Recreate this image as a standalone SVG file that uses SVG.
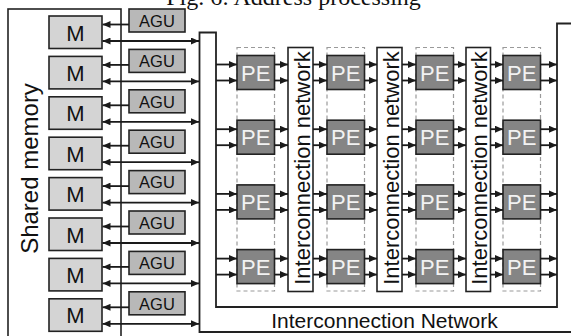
<svg xmlns="http://www.w3.org/2000/svg" width="571" height="336" viewBox="0 0 571 336">
<defs>
<style>
.box{stroke:#222;stroke-width:1.6}
.m{fill:#d4d4d4}
.agu{fill:#b8b8b8}
.pe{fill:#858585}
.ic{fill:#fff;stroke:#222;stroke-width:1.6}
.col{fill:none;stroke:#9a9a9a;stroke-width:1.2;stroke-dasharray:4 3}
.t{font-family:"Liberation Sans",Arial,sans-serif;fill:#111;text-anchor:middle}
.tm{font-size:22px}
.ta{font-size:16.5px}
.tp{font-size:22px;fill:#f2f2f2}
.ti{font-size:22px}
.cap{font-family:"Liberation Serif","Times New Roman",serif;font-size:24px;fill:#111;text-anchor:middle}
.c{stroke:#1a1a1a;stroke-width:1.8;fill:none}
</style>
<marker id="ah" markerWidth="8" markerHeight="7" refX="8" refY="3.5" orient="auto-start-reverse" markerUnits="userSpaceOnUse">
<path d="M0,0 L8,3.5 L0,7 z" fill="#1a1a1a"/>
</marker>
</defs>
<rect width="571" height="336" fill="#fff"/>
<text class="cap" x="293.5" y="5">Fig. 6: Address processing</text>

<g id="shared-memory">
<rect x="8" y="9" width="113" height="340" fill="#fff" stroke="#222" stroke-width="1.6"/>
<text class="t" style="font-size:24px" transform="translate(38,168.5) rotate(-90)">Shared memory</text>
</g>

<g id="interconnection-network">
<path d="M199.5,32.5 H216 V307 H557 V23.5 H580 V332 H199.5 Z" fill="#fff" stroke="#222" stroke-width="1.8"/>
<text class="t" style="font-size:21px" x="384.5" y="327.5">Interconnection Network</text>
</g>

<g id="m1"><rect class="box m" x="49" y="16" width="53" height="32.5"/><text class="t tm" x="75.5" y="40.5">M</text></g>
<g id="m2"><rect class="box m" x="49" y="56.4" width="53" height="32.5"/><text class="t tm" x="75.5" y="80.9">M</text></g>
<g id="m3"><rect class="box m" x="49" y="96.8" width="53" height="32.5"/><text class="t tm" x="75.5" y="121.3">M</text></g>
<g id="m4"><rect class="box m" x="49" y="137.2" width="53" height="32.5"/><text class="t tm" x="75.5" y="161.7">M</text></g>
<g id="m5"><rect class="box m" x="49" y="177.6" width="53" height="32.5"/><text class="t tm" x="75.5" y="202.1">M</text></g>
<g id="m6"><rect class="box m" x="49" y="218" width="53" height="32.5"/><text class="t tm" x="75.5" y="242.5">M</text></g>
<g id="m7"><rect class="box m" x="49" y="258.4" width="53" height="32.5"/><text class="t tm" x="75.5" y="282.9">M</text></g>
<g id="m8"><rect class="box m" x="49" y="298.8" width="53" height="32.5"/><text class="t tm" x="75.5" y="323.3">M</text></g>

<g id="agu1"><rect class="box agu" x="129" y="9" width="56" height="23"/><text class="t ta" x="157" y="26.7">AGU</text></g>
<g id="agu2"><rect class="box agu" x="129" y="49.4" width="56" height="23"/><text class="t ta" x="157" y="67.1">AGU</text></g>
<g id="agu3"><rect class="box agu" x="129" y="89.8" width="56" height="23"/><text class="t ta" x="157" y="107.5">AGU</text></g>
<g id="agu4"><rect class="box agu" x="129" y="130.2" width="56" height="23"/><text class="t ta" x="157" y="147.9">AGU</text></g>
<g id="agu5"><rect class="box agu" x="129" y="170.6" width="56" height="23"/><text class="t ta" x="157" y="188.3">AGU</text></g>
<g id="agu6"><rect class="box agu" x="129" y="211" width="56" height="23"/><text class="t ta" x="157" y="228.7">AGU</text></g>
<g id="agu7"><rect class="box agu" x="129" y="251.4" width="56" height="23"/><text class="t ta" x="157" y="269.1">AGU</text></g>
<g id="agu8"><rect class="box agu" x="129" y="291.8" width="56" height="23"/><text class="t ta" x="157" y="309.5">AGU</text></g>

<g id="pe-columns">
<rect class="col" x="237" y="47.5" width="37.5" height="243.5"/>
<rect class="col" x="327" y="47.5" width="37.5" height="243.5"/>
<rect class="col" x="416" y="47.5" width="37.5" height="243.5"/>
<rect class="col" x="503" y="47.5" width="37.5" height="243.5"/>
</g>

<g id="ic1"><rect class="ic" x="288" y="47.5" width="25" height="244"/><text class="t ti" transform="translate(309.5,168) rotate(-90)">Interconnection network</text></g>
<g id="ic2"><rect class="ic" x="377" y="47.5" width="25" height="244"/><text class="t ti" transform="translate(398.5,168) rotate(-90)">Interconnection network</text></g>
<g id="ic3"><rect class="ic" x="466" y="47.5" width="24.5" height="244"/><text class="t ti" transform="translate(487,168) rotate(-90)">Interconnection network</text></g>

<g id="pe-row1">
<g id="pe11"><rect class="box pe" x="237" y="55.5" width="37.5" height="34"/><text class="t tp" x="255.75" y="80.5">PE</text></g>
<g id="pe12"><rect class="box pe" x="327" y="55.5" width="37.5" height="34"/><text class="t tp" x="345.75" y="80.5">PE</text></g>
<g id="pe13"><rect class="box pe" x="416" y="55.5" width="37.5" height="34"/><text class="t tp" x="434.75" y="80.5">PE</text></g>
<g id="pe14"><rect class="box pe" x="503" y="55.5" width="37.5" height="34"/><text class="t tp" x="521.75" y="80.5">PE</text></g>
</g>
<g id="pe-row2">
<g id="pe21"><rect class="box pe" x="237" y="120.2" width="37.5" height="34"/><text class="t tp" x="255.75" y="145.2">PE</text></g>
<g id="pe22"><rect class="box pe" x="327" y="120.2" width="37.5" height="34"/><text class="t tp" x="345.75" y="145.2">PE</text></g>
<g id="pe23"><rect class="box pe" x="416" y="120.2" width="37.5" height="34"/><text class="t tp" x="434.75" y="145.2">PE</text></g>
<g id="pe24"><rect class="box pe" x="503" y="120.2" width="37.5" height="34"/><text class="t tp" x="521.75" y="145.2">PE</text></g>
</g>
<g id="pe-row3">
<g id="pe31"><rect class="box pe" x="237" y="184.9" width="37.5" height="34"/><text class="t tp" x="255.75" y="209.9">PE</text></g>
<g id="pe32"><rect class="box pe" x="327" y="184.9" width="37.5" height="34"/><text class="t tp" x="345.75" y="209.9">PE</text></g>
<g id="pe33"><rect class="box pe" x="416" y="184.9" width="37.5" height="34"/><text class="t tp" x="434.75" y="209.9">PE</text></g>
<g id="pe34"><rect class="box pe" x="503" y="184.9" width="37.5" height="34"/><text class="t tp" x="521.75" y="209.9">PE</text></g>
</g>
<g id="pe-row4">
<g id="pe41"><rect class="box pe" x="237" y="249.6" width="37.5" height="34"/><text class="t tp" x="255.75" y="274.6">PE</text></g>
<g id="pe42"><rect class="box pe" x="327" y="249.6" width="37.5" height="34"/><text class="t tp" x="345.75" y="274.6">PE</text></g>
<g id="pe43"><rect class="box pe" x="416" y="249.6" width="37.5" height="34"/><text class="t tp" x="434.75" y="274.6">PE</text></g>
<g id="pe44"><rect class="box pe" x="503" y="249.6" width="37.5" height="34"/><text class="t tp" x="521.75" y="274.6">PE</text></g>
</g>

<g id="connectors" class="c">
<path marker-end="url(#ah)" d="M129,24.5 H102.5"/>
<path marker-end="url(#ah)" d="M129,64.9 H102.5"/>
<path marker-end="url(#ah)" d="M129,105.3 H102.5"/>
<path marker-end="url(#ah)" d="M129,145.7 H102.5"/>
<path marker-end="url(#ah)" d="M129,186.1 H102.5"/>
<path marker-end="url(#ah)" d="M129,226.5 H102.5"/>
<path marker-end="url(#ah)" d="M129,266.9 H102.5"/>
<path marker-end="url(#ah)" d="M129,307.3 H102.5"/>

<path marker-start="url(#ah)" marker-end="url(#ah)" d="M102.5,41 H199"/>
<path marker-start="url(#ah)" marker-end="url(#ah)" d="M102.5,81.4 H199"/>
<path marker-start="url(#ah)" marker-end="url(#ah)" d="M102.5,121.8 H199"/>
<path marker-start="url(#ah)" marker-end="url(#ah)" d="M102.5,162.2 H199"/>
<path marker-start="url(#ah)" marker-end="url(#ah)" d="M102.5,202.6 H199"/>
<path marker-start="url(#ah)" marker-end="url(#ah)" d="M102.5,243 H199"/>
<path marker-start="url(#ah)" marker-end="url(#ah)" d="M102.5,283.4 H199"/>
<path marker-start="url(#ah)" marker-end="url(#ah)" d="M102.5,323.8 H199"/>

<g id="row1-links">
<path marker-end="url(#ah)" d="M216,64.5 H237"/><path marker-end="url(#ah)" d="M216,80.5 H237"/>
<path marker-end="url(#ah)" d="M274.5,64.5 H288"/><path marker-end="url(#ah)" d="M274.5,80.5 H288"/>
<path marker-end="url(#ah)" d="M313,64.5 H327"/><path marker-end="url(#ah)" d="M313,80.5 H327"/>
<path marker-end="url(#ah)" d="M364.5,64.5 H377"/><path marker-end="url(#ah)" d="M364.5,80.5 H377"/>
<path marker-end="url(#ah)" d="M402,64.5 H416"/><path marker-end="url(#ah)" d="M402,80.5 H416"/>
<path marker-end="url(#ah)" d="M453.5,64.5 H466"/><path marker-end="url(#ah)" d="M453.5,80.5 H466"/>
<path marker-end="url(#ah)" d="M490.5,64.5 H503"/><path marker-end="url(#ah)" d="M490.5,80.5 H503"/>
<path marker-end="url(#ah)" d="M540.5,64.5 H557"/><path marker-end="url(#ah)" d="M540.5,80.5 H557"/>
</g>
<g id="row2-links">
<path marker-end="url(#ah)" d="M216,129.2 H237"/><path marker-end="url(#ah)" d="M216,145.2 H237"/>
<path marker-end="url(#ah)" d="M274.5,129.2 H288"/><path marker-end="url(#ah)" d="M274.5,145.2 H288"/>
<path marker-end="url(#ah)" d="M313,129.2 H327"/><path marker-end="url(#ah)" d="M313,145.2 H327"/>
<path marker-end="url(#ah)" d="M364.5,129.2 H377"/><path marker-end="url(#ah)" d="M364.5,145.2 H377"/>
<path marker-end="url(#ah)" d="M402,129.2 H416"/><path marker-end="url(#ah)" d="M402,145.2 H416"/>
<path marker-end="url(#ah)" d="M453.5,129.2 H466"/><path marker-end="url(#ah)" d="M453.5,145.2 H466"/>
<path marker-end="url(#ah)" d="M490.5,129.2 H503"/><path marker-end="url(#ah)" d="M490.5,145.2 H503"/>
<path marker-end="url(#ah)" d="M540.5,129.2 H557"/><path marker-end="url(#ah)" d="M540.5,145.2 H557"/>
</g>
<g id="row3-links">
<path marker-end="url(#ah)" d="M216,193.9 H237"/><path marker-end="url(#ah)" d="M216,209.9 H237"/>
<path marker-end="url(#ah)" d="M274.5,193.9 H288"/><path marker-end="url(#ah)" d="M274.5,209.9 H288"/>
<path marker-end="url(#ah)" d="M313,193.9 H327"/><path marker-end="url(#ah)" d="M313,209.9 H327"/>
<path marker-end="url(#ah)" d="M364.5,193.9 H377"/><path marker-end="url(#ah)" d="M364.5,209.9 H377"/>
<path marker-end="url(#ah)" d="M402,193.9 H416"/><path marker-end="url(#ah)" d="M402,209.9 H416"/>
<path marker-end="url(#ah)" d="M453.5,193.9 H466"/><path marker-end="url(#ah)" d="M453.5,209.9 H466"/>
<path marker-end="url(#ah)" d="M490.5,193.9 H503"/><path marker-end="url(#ah)" d="M490.5,209.9 H503"/>
<path marker-end="url(#ah)" d="M540.5,193.9 H557"/><path marker-end="url(#ah)" d="M540.5,209.9 H557"/>
</g>
<g id="row4-links">
<path marker-end="url(#ah)" d="M216,258.6 H237"/><path marker-end="url(#ah)" d="M216,274.6 H237"/>
<path marker-end="url(#ah)" d="M274.5,258.6 H288"/><path marker-end="url(#ah)" d="M274.5,274.6 H288"/>
<path marker-end="url(#ah)" d="M313,258.6 H327"/><path marker-end="url(#ah)" d="M313,274.6 H327"/>
<path marker-end="url(#ah)" d="M364.5,258.6 H377"/><path marker-end="url(#ah)" d="M364.5,274.6 H377"/>
<path marker-end="url(#ah)" d="M402,258.6 H416"/><path marker-end="url(#ah)" d="M402,274.6 H416"/>
<path marker-end="url(#ah)" d="M453.5,258.6 H466"/><path marker-end="url(#ah)" d="M453.5,274.6 H466"/>
<path marker-end="url(#ah)" d="M490.5,258.6 H503"/><path marker-end="url(#ah)" d="M490.5,274.6 H503"/>
<path marker-end="url(#ah)" d="M540.5,258.6 H557"/><path marker-end="url(#ah)" d="M540.5,274.6 H557"/>
</g>
</g>
</svg>
